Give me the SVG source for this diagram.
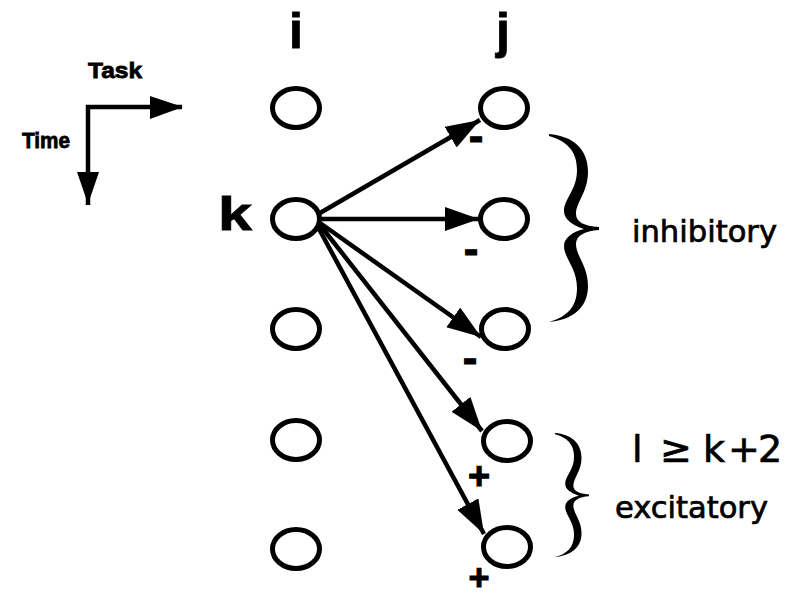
<svg xmlns="http://www.w3.org/2000/svg" width="796" height="598" viewBox="0 0 796 598">
  <style>
    .node { fill: none; stroke: #000; stroke-width: 5; }
    .edge { fill: none; stroke: #000; stroke-width: 4.5; marker-end: url(#head); }
    .bold { font-family: "Liberation Sans", Arial, sans-serif; font-weight: bold; fill: #000; stroke: #000; stroke-width: 0.8; }
    .sign { font-family: "Liberation Sans", Arial, sans-serif; font-weight: bold; fill: #000; stroke: #000; stroke-width: 1; text-anchor: middle; }
    .note { font-family: "DejaVu Sans", sans-serif; fill: #000; stroke: #000; stroke-width: 0.7; }
  </style>
  <defs>
    <marker id="head" markerUnits="userSpaceOnUse" markerWidth="35" markerHeight="25" refX="34" refY="12" orient="auto">
      <path d="M0,0 L34,12 L0,24 Z" fill="#000"/>
    </marker>
    <!-- curly brace, 50 wide and 188 tall, opening to the left -->
    <path id="brace" d="M0,0 C23,2 39,14 39,38 C39,58 27,68 27,80 C27,88 35,92 50,93 L50,96 C35,97 27,102 27,110 C27,122 39,132 39,152 C39,174 23,186 0,188 C17,183 28,174 28,154 C28,134 15,124 15,112 C15,104 23,98 35,95 C23,91 15,85 15,77 C15,65 28,56 28,36 C28,16 17,7 0,2 Z" fill="#000"/>
  </defs>

  <!-- axes legend -->
  <g id="axes">
    <path d="M88,205 L88,107 L182,107" fill="none" stroke="#000" stroke-width="4.5"/>
    <path d="M150,96 L183,107 L150,119 Z" fill="#000"/>
    <path d="M77,172 L88,204 L99,172 Z" fill="#000"/>
    <text class="bold" x="88" y="78" font-size="22" textLength="54" lengthAdjust="spacingAndGlyphs">Task</text>
    <text class="bold" x="22" y="148" font-size="22" textLength="48" lengthAdjust="spacingAndGlyphs">Time</text>
  </g>

  <!-- column and row labels -->
  <g id="labels">
    <text class="bold" x="296" y="48" font-size="50" text-anchor="middle" stroke-width="1.5">i</text>
    <text class="bold" x="503" y="48" font-size="50" text-anchor="middle" stroke-width="1.5">j</text>
    <text class="bold" x="218" y="230" font-size="46" textLength="34" lengthAdjust="spacingAndGlyphs" stroke-width="1.5">k</text>
  </g>

  <!-- column i -->
  <g id="i1"><ellipse class="node" cx="296" cy="108" rx="23.5" ry="19.5"/></g>
  <g id="i2"><ellipse class="node" cx="296" cy="219" rx="23.5" ry="19.5"/></g>
  <g id="i3"><ellipse class="node" cx="296" cy="329" rx="23.5" ry="19.5"/></g>
  <g id="i4"><ellipse class="node" cx="296" cy="440" rx="23.5" ry="19.5"/></g>
  <g id="i5"><ellipse class="node" cx="296" cy="549" rx="23.5" ry="19.5"/></g>

  <!-- column j -->
  <g id="j1"><ellipse class="node" cx="504" cy="108" rx="23.5" ry="19.5"/></g>
  <g id="j2"><ellipse class="node" cx="504" cy="219" rx="23.5" ry="19.5"/></g>
  <g id="j3"><ellipse class="node" cx="505" cy="329" rx="23.5" ry="19.5"/></g>
  <g id="j4"><ellipse class="node" cx="507" cy="441" rx="23.5" ry="19.5"/></g>
  <g id="j5"><ellipse class="node" cx="507" cy="547" rx="23.5" ry="19.5"/></g>

  <!-- connections from node k -->
  <g id="edges">
    <line class="edge" x1="320" y1="213" x2="480" y2="120"/>
    <line class="edge" x1="321" y1="219" x2="479" y2="219"/>
    <line class="edge" x1="320" y1="223" x2="481" y2="337"/>
    <line class="edge" x1="320" y1="225" x2="482" y2="431"/>
    <line class="edge" x1="318" y1="227" x2="484" y2="534"/>
  </g>

  <!-- connection signs -->
  <g id="signs">
    <text class="sign" x="476" y="151" font-size="44">-</text>
    <text class="sign" x="471" y="264" font-size="44">-</text>
    <text class="sign" x="470" y="373" font-size="44">-</text>
    <text class="sign" x="479" y="489" font-size="38">+</text>
    <text class="sign" x="479" y="590" font-size="36">+</text>
  </g>

  <!-- group braces and descriptions -->
  <g id="inhibitory">
    <use href="#brace" transform="translate(549,134)"/>
    <text class="note" x="632" y="242" font-size="30" textLength="145" lengthAdjust="spacingAndGlyphs">inhibitory</text>
  </g>
  <g id="excitatory">
    <use href="#brace" transform="translate(555,433) scale(0.68,0.66)"/>
    <text class="note" font-size="38" y="462" stroke-width="0.5"><tspan x="632">l</tspan><tspan x="660">≥</tspan><tspan x="703">k</tspan><tspan x="728">+</tspan><tspan x="758">2</tspan></text>
    <text class="note" x="615" y="518" font-size="30" textLength="153" lengthAdjust="spacingAndGlyphs">excitatory</text>
  </g>
</svg>
